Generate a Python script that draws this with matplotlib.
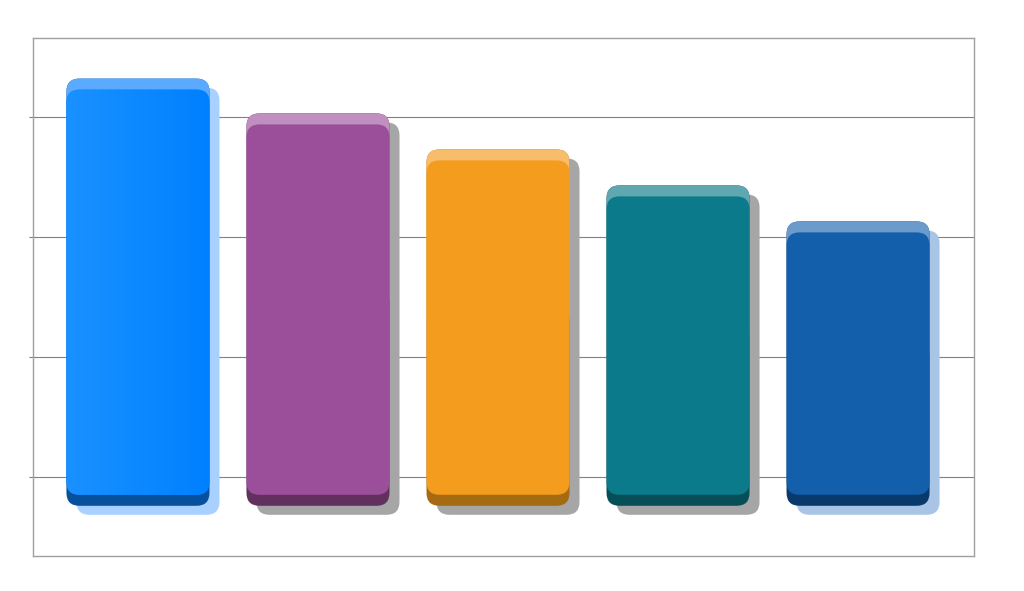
import numpy as np
import matplotlib
matplotlib.use("Agg")
import matplotlib.pyplot as plt
from matplotlib.patches import FancyBboxPatch

# Bar data (top of each bar, in grid units)
categories = ["A", "B", "C", "D", "E"]
values = [4.32, 4.03, 3.73, 3.43, 3.13]
base = 0.76

face_colors = ["#0a86ff", "#9b4f9b", "#f39c1d", "#0b7a8a", "#145fab"]
cap_colors = ["#5aabff", "#c08fc0", "#f8bd6b", "#5fa8b1", "#6a9bcb"]
dark_colors = ["#07509c", "#62305f", "#a66a12", "#064f58", "#0a3a6c"]
shadow_colors = ["#a8d1ff", "#a6a6a6", "#a6a6a6", "#a6a6a6", "#a8c5e5"]

fig = plt.figure(figsize=(10.24, 5.91), dpi=100)
ax = fig.add_axes([33 / 1024, 35 / 591, 941 / 1024, 518 / 591])

ax.set_xlim(-0.583, 4.644)
ax.set_ylim(1 - 79 / 120, 4 + 79 / 120)

# pixel sizes converted to data units
px_x = 1 / 180
px_y = 1 / 120
width = 143 * px_x
cap = 11 * px_y
off_x = 10 * px_x
off_y = 9 * px_y
radius = 13 * px_x
aspect = px_y / px_x


def rbox(x, y0, y1, color, z):
    p = FancyBboxPatch((x - width / 2, y0), width, y1 - y0,
                       boxstyle=f"round,pad=0,rounding_size={radius}",
                       mutation_aspect=aspect, fc=color, ec="none", zorder=z)
    ax.add_patch(p)
    return p


for i, v in enumerate(values):
    rbox(i + off_x, base - off_y, v - off_y, shadow_colors[i], 3)
    rbox(i, base, v, dark_colors[i], 4)
    rbox(i, (base + v) / 2, v, cap_colors[i], 5)
    face = rbox(i, base + cap, v - cap, face_colors[i], 6)
    if i == 0:
        grad = np.linspace(0, 1, 256).reshape(1, -1)
        cmap = matplotlib.colors.LinearSegmentedColormap.from_list(
            "g", ["#1a91ff", "#0080ff"])
        im = ax.imshow(grad, cmap=cmap, aspect="auto",
                       extent=(i - width / 2, i + width / 2, base + cap, v - cap),
                       zorder=7)
        im.set_clip_path(face)

ax.set_yticks([1, 2, 3, 4])
ax.set_yticklabels([])
ax.set_xticks([])
ax.tick_params(axis="y", length=3, color="#808080", width=0.8)
ax.grid(axis="y", color="#808080", linewidth=0.8, zorder=1)
ax.set_axisbelow(True)
for s in ax.spines.values():
    s.set_color("#a0a0a0")
    s.set_linewidth(1.0)

fig.savefig("out.png", dpi=100, facecolor="white")
